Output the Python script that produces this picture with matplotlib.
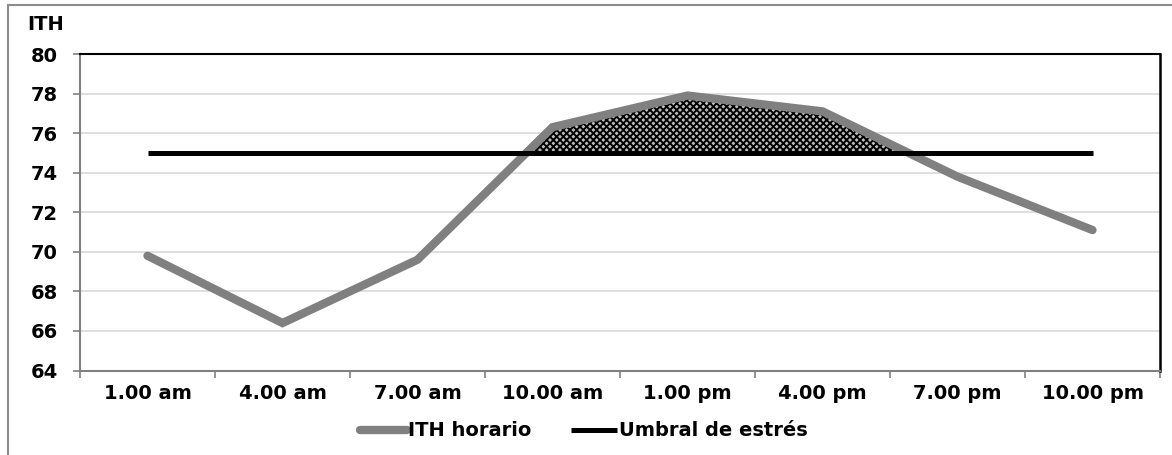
"""
ITH horario vs umbral de estrés
Line chart with hatched area above the threshold
"""

import numpy as np
import matplotlib
matplotlib.use('Agg')
import matplotlib.pyplot as plt
from matplotlib.patches import Rectangle

# Data
horas = ['1.00 am', '4.00 am', '7.00 am', '10.00 am',
         '1.00 pm', '4.00 pm', '7.00 pm', '10.00 pm']
ith_horario = [69.8, 66.4, 69.6, 76.3, 77.9, 77.1, 73.8, 71.1]
umbral = [75, 75, 75, 75, 75, 75, 75, 75]
y_ticks = [64, 66, 68, 70, 72, 74, 76, 78, 80]

plt.rcParams['font.family'] = ['DejaVu Sans']
plt.rcParams['hatch.color'] = 'black'
plt.rcParams['hatch.linewidth'] = 1.4

FS = 14

fig = plt.figure(figsize=(11.72, 4.55), dpi=100)
ax = fig.add_axes([80 / 1172, 1 - 370.5 / 455, 1080 / 1172, 316.5 / 455])

x = np.arange(len(horas))
ith = np.array(ith_horario)
thr = np.array(umbral)

# Hatched area where ITH exceeds the threshold
ax.fill_between(x, thr, ith, where=ith > thr, interpolate=True,
                facecolor='#bfbfbf', hatch='xxxxx', edgecolor='black',
                linewidth=0, zorder=2)

ax.plot(x, ith, color='#808080', linewidth=6, solid_capstyle='round',
        solid_joinstyle='miter', label='ITH horario', zorder=3)
ax.plot(x, thr, color='black', linewidth=3.6, solid_capstyle='butt',
        label='Umbral de estrés', zorder=4)

# Axes
ax.set_ylim(64, 80)
ax.set_xlim(-0.5, len(horas) - 0.5)
ax.set_yticks(y_ticks)
ax.yaxis.grid(True, color='#d9d9d9', linewidth=1.2)
ax.set_axisbelow(True)

ax.set_xticks(np.arange(-0.5, len(horas)))
ax.set_xticklabels([])
ax.set_xticks(x, minor=True)
ax.set_xticklabels(horas, minor=True)
ax.tick_params(axis='x', which='major', length=5, width=1.2, color='#808080')
ax.tick_params(axis='x', which='minor', length=0, pad=10, labelsize=FS)
ax.tick_params(axis='y', length=5, width=1.2, color='#808080', pad=11, labelsize=FS)
for lab in ax.get_yticklabels() + ax.get_xticklabels(minor=True):
    lab.set_fontweight('bold')

ax.spines['left'].set_color('#808080')
ax.spines['bottom'].set_color('#808080')
ax.spines['left'].set_linewidth(1.5)
ax.spines['bottom'].set_linewidth(1.5)
ax.spines['top'].set_color('black')
ax.spines['right'].set_color('black')
ax.spines['top'].set_linewidth(1.5)
ax.spines['right'].set_linewidth(1.8)

fig.text(27 / 1172, 1 - 24.5 / 455, 'ITH', fontsize=FS, fontweight='bold',
         ha='left', va='center')

leg = fig.legend(loc='center', bbox_to_anchor=(584 / 1172, 1 - 431 / 455),
                 ncol=2, frameon=False, handlelength=2.4, handletextpad=0.1,
                 columnspacing=2.0, borderpad=0, borderaxespad=0,
                 prop={'size': FS, 'weight': 'bold'})

# Outer chart border (cropped)
fig.patches.append(Rectangle((8 / 1172, -0.1), 1.2, 1 - 5 / 455 + 0.1,
                             transform=fig.transFigure, fill=False,
                             edgecolor='#8c8c8c', linewidth=1.5))

fig.savefig('out.png', dpi=100)
